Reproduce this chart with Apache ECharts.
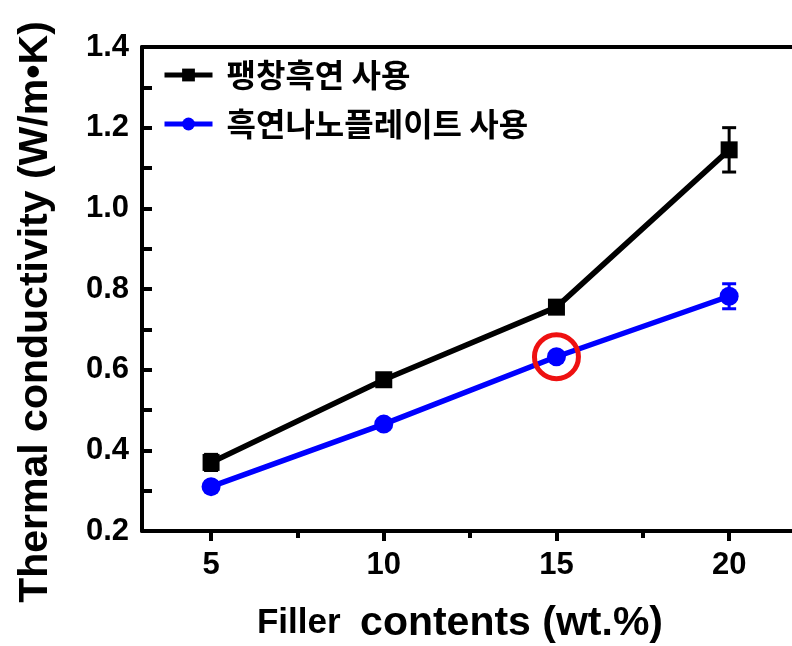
<!DOCTYPE html>
<html>
<head>
<meta charset="utf-8">
<script src="https://cdn.jsdelivr.net/npm/echarts@6/dist/echarts.min.js"></script>
<style>
  html, body { margin: 0; padding: 0; background: #fff; }
  #chart { width: 792px; height: 646px; }
</style>
</head>
<body>
<div id="chart"></div>
<script>
// Filler loading (wt.%)
const fillerContents = [5, 10, 15, 20];

// Expanded graphite filler
const expandedName = '팽창흑연 사용';
const expandedValues = [0.37, 0.575, 0.755, 1.145];
const expandedErrors = [0.02, 0.01, 0.01, 0.055];

// Graphite nanoplatelet filler
const nanoplateName = '흑연나노플레이트 사용';
const nanoplateValues = [0.31, 0.465, 0.632, 0.782];
const nanoplateErrors = [0.012, 0.01, 0.01, 0.031];

// Point circled in red
const highlightPoint = [15, 0.632];

// Axis ticks
const xMajorTicks = [5, 10, 15, 20];
const xMinorTicks = [7.5, 12.5, 17.5];
const yTicks = [0.2, 0.4, 0.6, 0.8, 1.0, 1.2, 1.4];

const latin = '"Liberation Sans", Arial, sans-serif';
const korean = '"Noto Sans CJK KR", sans-serif';

function pairs(xs, ys) {
  return xs.map((x, i) => [x, ys[i]]);
}
function errorRows(xs, ys, es) {
  return xs.map((x, i) => [x, ys[i] - es[i], ys[i] + es[i]]);
}

function errorBarRenderer(color) {
  return function (params, api) {
    const x = api.value(0);
    const lo = api.coord([x, api.value(1)]);
    const hi = api.coord([x, api.value(2)]);
    const cap = 7;
    const style = { stroke: color, lineWidth: 3, fill: 'none' };
    return {
      type: 'group',
      children: [
        { type: 'line', shape: { x1: lo[0], y1: lo[1], x2: hi[0], y2: hi[1] }, style },
        { type: 'line', shape: { x1: lo[0] - cap, y1: lo[1], x2: lo[0] + cap, y2: lo[1] }, style },
        { type: 'line', shape: { x1: hi[0] - cap, y1: hi[1], x2: hi[0] + cap, y2: hi[1] }, style }
      ]
    };
  };
}

const chart = echarts.init(document.getElementById('chart'), null, { renderer: 'canvas' });

const frame = { show: true, lineStyle: { color: '#000', width: 4 } };
const xMin = 3, xMax = 21.82;

chart.setOption({
  animation: false,
  backgroundColor: '#fff',
  grid: { left: 142, top: 47, right: 0, bottom: 115, containLabel: false, outerBoundsMode: 'none' },
  legend: {
    orient: 'vertical',
    left: 157,
    top: 54,
    itemWidth: 48,
    itemHeight: 16,
    itemGap: 17,
    data: [expandedName, nanoplateName],
    lineStyle: { width: 5 },
    textStyle: {
      fontFamily: korean, fontWeight: 'bold', fontSize: 32, color: '#000',
      padding: [0, 0, 0, 9]
    }
  },
  xAxis: [
    {
      type: 'value', position: 'bottom', min: xMin, max: xMax,
      axisLine: frame,
      splitLine: { show: false },
      axisTick: { show: true, customValues: xMajorTicks, length: 10, inside: false, lineStyle: { color: '#000', width: 4 } },
      axisLabel: {
        customValues: xMajorTicks, margin: 19,
        fontFamily: latin, fontWeight: 'bold', fontSize: 31, color: '#000'
      },
      name: '{a|Filler  }{b|contents (wt.%)}',
      nameLocation: 'middle',
      nameGap: 72,
      nameTextStyle: {
        padding: [0, 14, 0, 0],
        rich: {
          a: { fontFamily: latin, fontWeight: 'bold', fontSize: 35, color: '#000' },
          b: { fontFamily: latin, fontWeight: 'bold', fontSize: 41, color: '#000' }
        }
      }
    },
    {
      type: 'value', position: 'bottom', min: xMin, max: xMax,
      axisLine: { show: false },
      splitLine: { show: false },
      axisTick: { show: true, customValues: xMinorTicks, length: 7, inside: false, lineStyle: { color: '#000', width: 4 } },
      axisLabel: { show: false }
    },
    {
      type: 'value', position: 'top', min: xMin, max: xMax,
      axisLine: frame,
      splitLine: { show: false },
      axisTick: { show: false },
      axisLabel: { show: false }
    }
  ],
  yAxis: [
    {
      type: 'value', position: 'left', min: 0.2, max: 1.4, interval: 0.2,
      axisLine: frame,
      splitLine: { show: false },
      axisTick: { show: true, inside: true, length: 10, lineStyle: { color: '#000', width: 4 } },
      minorTick: { show: true, splitNumber: 2, length: 10, lineStyle: { color: '#000', width: 4 } },
      axisLabel: {
        margin: 13,
        formatter: v => yTicks.includes(+v.toFixed(1)) ? v.toFixed(1) : '',
        fontFamily: latin, fontWeight: 'bold', fontSize: 31, color: '#000'
      },
      name: '{a|Thermal conductivity }{b|(W/m•K)}',
      nameLocation: 'middle',
      nameGap: 86,
      nameRotate: 90,
      nameTextStyle: {
        padding: [0, 46, 0, 0],
        rich: {
          a: { fontFamily: latin, fontWeight: 'bold', fontSize: 41, color: '#000' },
          b: { fontFamily: latin, fontWeight: 'bold', fontSize: 41, color: '#000' }
        }
      }
    }
  ],
  series: [
    {
      name: expandedName,
      type: 'line',
      xAxisIndex: 0,
      data: pairs(fillerContents, expandedValues),
      symbol: 'rect',
      symbolSize: 17,
      itemStyle: { color: '#000' },
      lineStyle: { color: '#000', width: 5.5 },
      z: 3
    },
    {
      name: nanoplateName,
      type: 'line',
      xAxisIndex: 0,
      data: pairs(fillerContents, nanoplateValues),
      symbol: 'circle',
      symbolSize: 19,
      itemStyle: { color: '#0000ff' },
      lineStyle: { color: '#0000ff', width: 5.5 },
      z: 3,
      markPoint: {
        symbol: 'circle',
        symbolSize: 44,
        silent: true,
        label: { show: false },
        itemStyle: { color: 'rgba(0,0,0,0)', borderColor: '#ee1111', borderWidth: 5 },
        data: [{ coord: highlightPoint }]
      }
    },
    {
      name: expandedName + ' error',
      type: 'custom',
      xAxisIndex: 0,
      data: errorRows(fillerContents, expandedValues, expandedErrors),
      renderItem: errorBarRenderer('#000'),
      encode: { x: 0, y: [1, 2] },
      z: 2
    },
    {
      name: nanoplateName + ' error',
      type: 'custom',
      xAxisIndex: 0,
      data: errorRows(fillerContents, nanoplateValues, nanoplateErrors),
      renderItem: errorBarRenderer('#0000ff'),
      encode: { x: 0, y: [1, 2] },
      z: 2
    }
  ]
});
</script>
</body>
</html>
